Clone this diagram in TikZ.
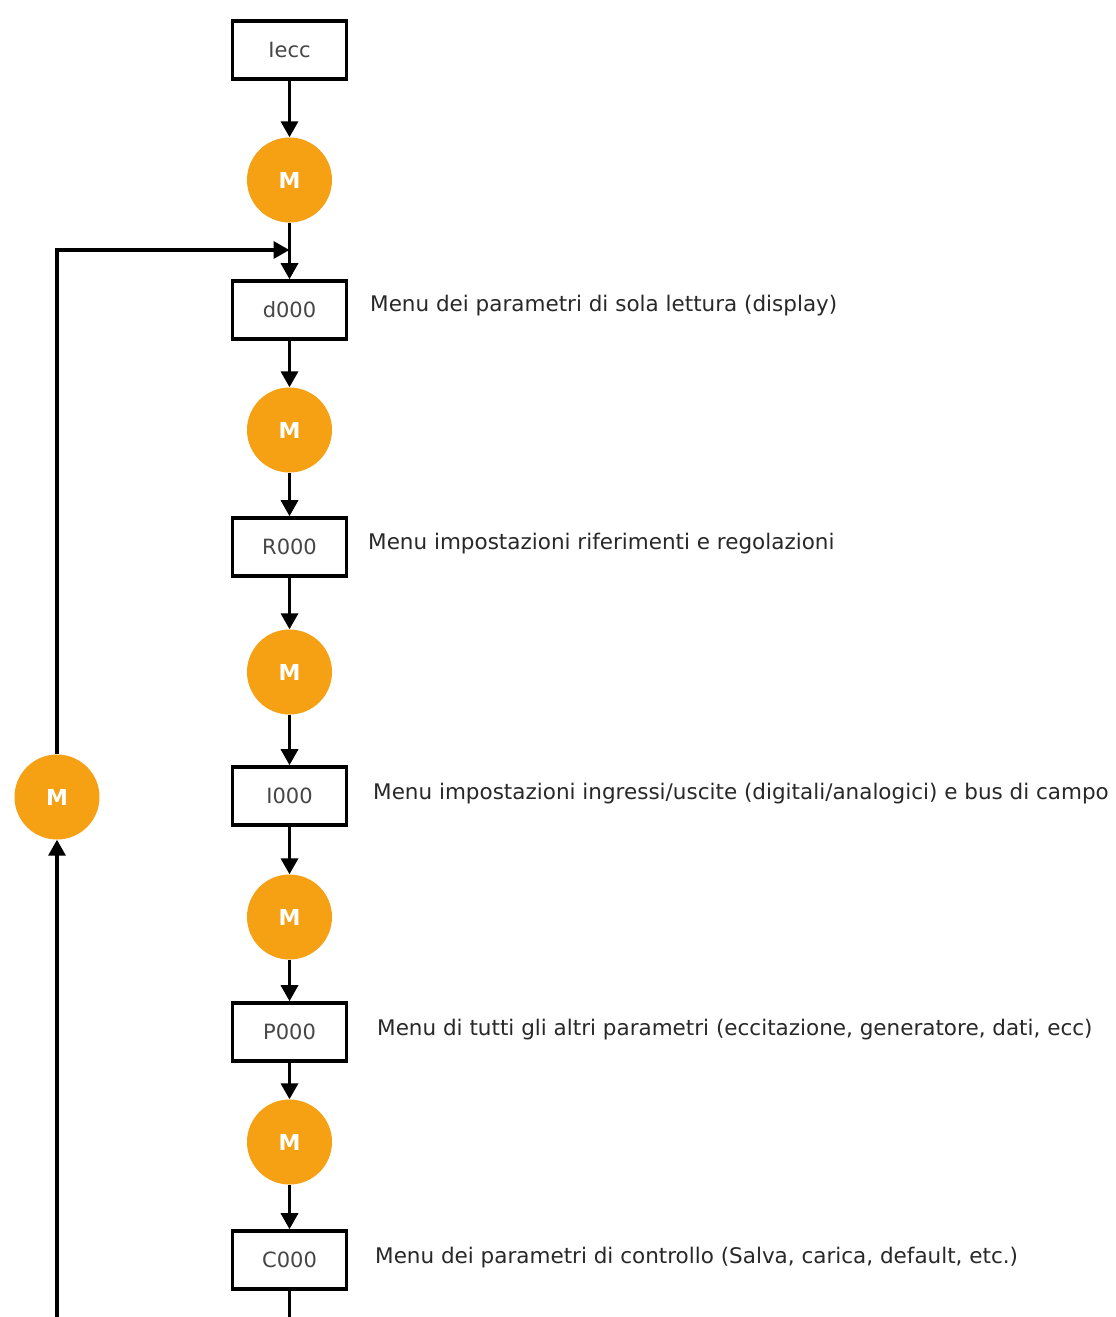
\documentclass[tikz,border=0pt]{standalone}
\usepackage{fontspec}
\setmainfont{DejaVu Sans}
\usetikzlibrary{arrows.meta}
\definecolor{morange}{RGB}{246,160,20}
\definecolor{txtgray}{RGB}{40,40,40}
\definecolor{boxgray}{RGB}{70,70,70}
\begin{document}
\begin{tikzpicture}[x=1pt,y=-1pt,
  menubox/.style={draw=black,line width=3.6pt,minimum width=114pt,minimum height=58pt,inner sep=0pt,font=\fontsize{21}{24}\selectfont,text=boxgray},
  mcirc/.style={circle,fill=morange,draw=none,minimum size=85pt,inner sep=0pt,font=\bfseries\fontsize{22}{24}\selectfont,text=white},
  lbl/.style={anchor=west,font=\fontsize{21.5}{24}\selectfont,text=txtgray,inner sep=0pt},
  conn/.style={line width=3.4pt,draw=black},
  arr/.style={conn,-{Triangle[length=16pt,width=17pt]}}]
\useasboundingbox (0,0) rectangle (1116,1317);
\fill[white] (0,0) rectangle (1116,1317);
\node[menubox] (iecc) at (289.5,50) {Iecc};
\node[mcirc] (m1) at (289.5,180) {M};
\node[menubox] (d) at (289.5,310) {d000};
\node[mcirc] (m2) at (289.5,430) {M};
\node[menubox] (r) at (289.5,547) {R000};
\node[mcirc] (m3) at (289.5,672) {M};
\node[menubox] (i) at (289.5,796) {I000};
\node[mcirc] (m4) at (289.5,917) {M};
\node[menubox] (p) at (289.5,1032) {P000};
\node[mcirc] (m5) at (289.5,1142) {M};
\node[menubox] (c) at (289.5,1260) {C000};
\node[mcirc] (ml) at (57,797) {M};
\coordinate (join) at (289.5,250);
\coordinate (cbot) at (289.5,1320);
\coordinate (lbot) at (57,1320);
\node[lbl] (ld) at (370,306) {Menu dei parametri di sola lettura (display)};
\node[lbl] (lr) at (368,544) {Menu impostazioni riferimenti e regolazioni};
\node[lbl] (li) at (373,794) {Menu impostazioni ingressi/uscite (digitali/analogici) e bus di campo};
\node[lbl] (lp) at (377,1030) {Menu di tutti gli altri parametri (eccitazione, generatore, dati, ecc)};
\node[lbl] (lc) at (375,1258) {Menu dei parametri di controllo (Salva, carica, default, etc.)};
\draw[arr] (iecc) -- (m1);
\draw[arr] (m1) -- (d);
\draw[arr] (d) -- (m2);
\draw[arr] (m2) -- (r);
\draw[arr] (r) -- (m3);
\draw[arr] (m3) -- (i);
\draw[arr] (i) -- (m4);
\draw[arr] (m4) -- (p);
\draw[arr] (p) -- (m5);
\draw[arr] (m5) -- (c);
\draw[conn] (c) -- (cbot);
\draw[arr] (lbot) -- (ml);
\draw[arr] (ml.north) |- (join);
\end{tikzpicture}
\end{document}
